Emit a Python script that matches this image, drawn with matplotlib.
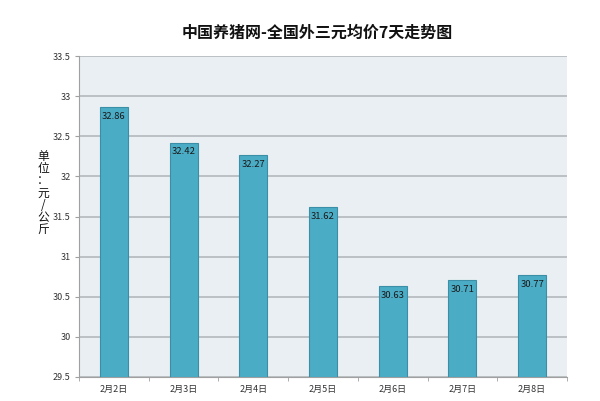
import matplotlib
matplotlib.use("Agg")
import matplotlib.pyplot as plt
import numpy as np

plt.rcParams['font.family'] = ['Noto Sans CJK SC', 'DejaVu Sans']

categories = ["2月2日", "2月3日", "2月4日", "2月5日", "2月6日", "2月7日", "2月8日"]
values = [32.86, 32.42, 32.27, 31.62, 30.63, 30.71, 30.77]
yticks = [29.5, 30, 30.5, 31, 31.5, 32, 32.5, 33, 33.5]
ytick_labels = ["29.5", "30", "30.5", "31", "31.5", "32", "32.5", "33", "33.5"]

fig = plt.figure(figsize=(6.0, 4.01), dpi=100)
ax = fig.add_axes([79/600, 24/401, (567-79)/600, (377-56)/401])
ax.set_facecolor('#E9EFF3')

x = np.arange(len(categories))
base = yticks[0]
heights = [v - base for v in values]
ax.bar(x, heights, bottom=base, width=0.4, color='#4BACC6', edgecolor='#3A8FA6', linewidth=0.8, zorder=3)
for xi, v in zip(x, values):
    ax.text(xi, v - 0.06, f"{v:.2f}", ha='center', va='top', fontsize=6.8, color='#1a1a1a', zorder=4)

ax.set_xlim(-0.5, len(categories) - 0.5)
ax.set_ylim(yticks[0], yticks[-1])
ax.set_yticks(yticks)
ax.set_yticklabels(ytick_labels, fontsize=6.5, color='#333333')
ax.set_xticks(x)
ax.set_xticklabels(categories, fontsize=6.5, color='#333333')
ax.set_xticks(np.arange(-0.5, len(categories), 1), minor=True)
ax.tick_params(axis='x', which='major', length=0, pad=6)
ax.tick_params(axis='x', which='minor', length=3, color='#A0A0A0')
ax.tick_params(axis='y', length=3, color='#A0A0A0', pad=3)
ax.grid(axis='y', color='#B4B8BC', linewidth=1.2, zorder=1)
for s in ['top', 'right']:
    ax.spines[s].set_visible(False)
ax.spines['left'].set_color('#A0A0A0')
ax.spines['bottom'].set_color('#A0A0A0')

fig.text(317/600, 1 - 33/401, "中国养猪网-全国外三元均价7天走势图", ha='center', va='center',
         fontsize=11.5, fontweight='bold', color='#111111')
fig.text(43/600, 1 - 193/401, "单\n位\n：\n元\n/\n公\n斤", ha='center', va='center',
         fontsize=8.5, color='#111111', linespacing=0.92)

fig.savefig("out.png", dpi=100)
